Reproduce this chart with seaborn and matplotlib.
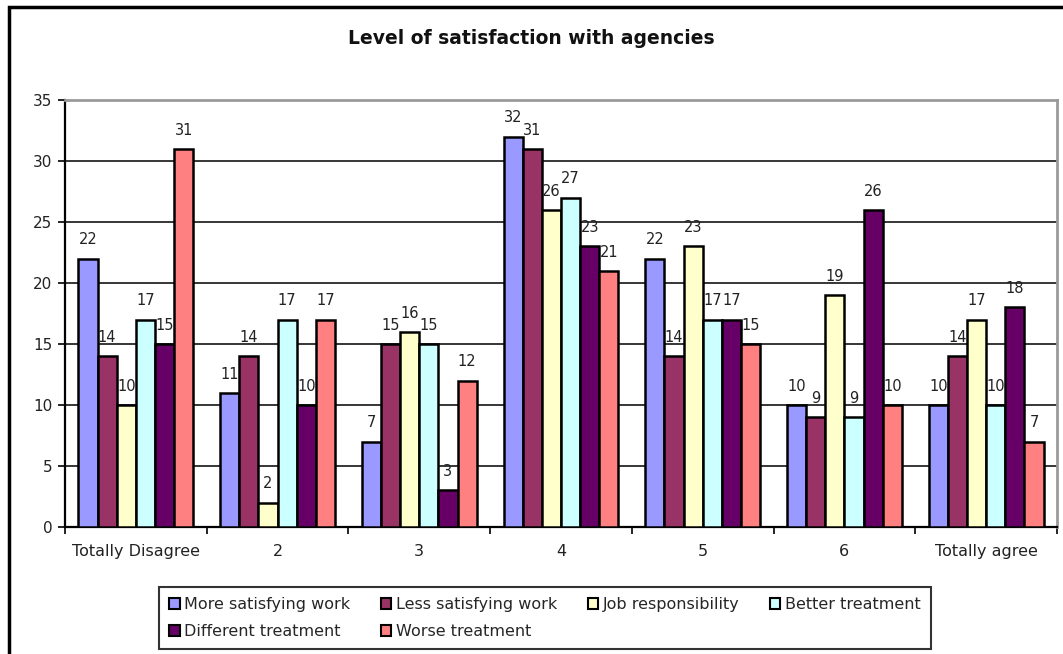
import matplotlib
matplotlib.use("Agg")
import matplotlib.pyplot as plt
import seaborn as sns
import pandas as pd
import numpy as np
from matplotlib.patches import Rectangle

categories = ["Totally Disagree", "2", "3", "4", "5", "6", "Totally agree"]
series = ["More satisfying work", "Less satisfying work", "Job responsibility",
          "Better treatment", "Different treatment", "Worse treatment"]
more_satisfying = [22, 11, 7, 32, 22, 10, 10]
less_satisfying = [14, 14, 15, 31, 14, 9, 14]
job_responsibility = [10, 2, 16, 26, 23, 19, 17]
better_treatment = [17, 17, 15, 27, 17, 9, 10]
different_treatment = [15, 10, 3, 23, 17, 26, 18]
worse_treatment = [31, 17, 12, 21, 15, 10, 7]
colors = ["#9999FF", "#993366", "#FFFFCC", "#CCFFFF", "#660066", "#FF8080"]

values = [more_satisfying, less_satisfying, job_responsibility,
          better_treatment, different_treatment, worse_treatment]
rows = []
for name, vals in zip(series, values):
    for cat, v in zip(categories, vals):
        rows.append({"category": cat, "series": name, "value": v})
df = pd.DataFrame(rows)

sns.set_theme(style="white")
plt.rcParams["font.family"] = ["DejaVu Sans"]

fig = plt.figure(figsize=(10.63, 6.54), dpi=100)
ax = fig.add_axes([65 / 1063, 1 - 527 / 654, (1057 - 65) / 1063, (527 - 100) / 654])

sns.barplot(data=df, x="category", y="value", hue="series", order=categories,
            hue_order=series, palette=colors, width=0.81, gap=0,
            edgecolor="black", linewidth=1.8, saturation=1, ax=ax, legend=False,
            zorder=3)

for cont in ax.containers:
    ax.bar_label(cont, padding=8, fontsize=10.5, color="#222222")

ax.set_ylim(0, 35)
ax.set_yticks(np.arange(0, 36, 5))
ax.set_xlim(-0.5, 6.5)
ax.set_xlabel("")
ax.set_ylabel("")
ax.yaxis.grid(True, color="black", linewidth=1.1, zorder=0)
ax.set_axisbelow(True)

ax.tick_params(axis="y", which="major", left=True, length=5, width=1.2,
               color="black", labelsize=11, pad=4, labelcolor="#222222")
ax.tick_params(axis="x", which="major", bottom=False, labelsize=11.5, pad=6,
               labelcolor="#222222")
ax.set_xticks(np.arange(-0.5, 7.0, 1.0), minor=True)
ax.tick_params(axis="x", which="minor", bottom=True, length=5, width=1.2,
               color="black")

for side in ["left", "bottom"]:
    ax.spines[side].set_color("black")
    ax.spines[side].set_linewidth(1.6)
for side in ["top", "right"]:
    ax.spines[side].set_color("#9a9a9a")
    ax.spines[side].set_linewidth(2.0)

fig.text(0.5, 1 - 38 / 654, "Level of satisfaction with agencies", ha="center",
         va="center", fontsize=13.5, fontweight="bold", color="#111111")

# legend, filled row-wise in a 2 x 4 grid
handles = [Rectangle((0, 0), 1, 1, facecolor=c, edgecolor="black", linewidth=1.5)
           for c in colors]
order = [0, 4, 1, 5, 2, 3]
leg = fig.legend([handles[i] for i in order], [series[i] for i in order],
                 ncol=4, loc="center", bbox_to_anchor=(545 / 1063, 1 - 618 / 654),
                 frameon=True, fancybox=False, edgecolor="black", fontsize=11.5,
                 handlelength=0.65, handleheight=0.65, handletextpad=0.3,
                 columnspacing=1.9, labelspacing=0.75, borderpad=0.65)
leg.get_frame().set_linewidth(1.5)

# outer chart frame
fig.patches.append(Rectangle((9 / 1063, -0.2), 1.2, 1.2 - 7 / 654,
                             transform=fig.transFigure, fill=False,
                             edgecolor="black", linewidth=2.5))

fig.savefig("out.png", dpi=100)
